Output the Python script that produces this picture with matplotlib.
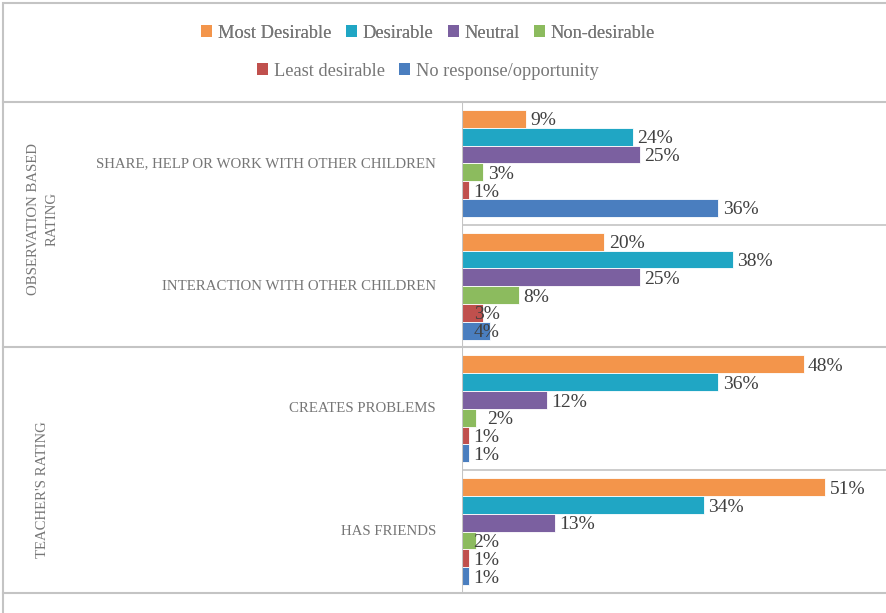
import matplotlib
matplotlib.use("Agg")
import matplotlib.pyplot as plt
from matplotlib.lines import Line2D
from matplotlib.patches import Patch, Rectangle

plt.rcParams['font.family'] = ['Liberation Serif', 'DejaVu Serif']

# Data
categories = ["SHARE, HELP OR WORK WITH OTHER CHILDREN",
              "INTERACTION WITH OTHER CHILDREN",
              "CREATES PROBLEMS",
              "HAS FRIENDS"]
groups = ["OBSERVATION BASED\nRATING", "TEACHER'S RATING"]
series = ["Most Desirable", "Desirable", "Neutral", "Non-desirable",
          "Least desirable", "No response/opportunity"]
most_desirable = [9, 20, 48, 51]
desirable = [24, 38, 36, 34]
neutral = [25, 25, 12, 13]
non_desirable = [3, 8, 2, 2]
least_desirable = [1, 3, 1, 1]
no_response = [36, 4, 1, 1]
values = [most_desirable, desirable, neutral, non_desirable, least_desirable, no_response]

colors = ['#F3954B', '#20A6C4', '#7B60A0', '#8CBB5E', '#C0504D', '#4A7EBF']
grid_c = '#C4C4C4'
text_c = '#767676'

# label positions that Excel moved off the bar end: (series, category) -> x
label_x = {(4, 1): 1.7, (5, 1): 1.7, (3, 2): 3.5, (3, 3): 1.6}

W, H = 886, 613
fig = plt.figure(figsize=(W / 100, H / 100), dpi=100)

ax_left, ax_right = 462, 886
ax_top, ax_bot = 102, 593
ax = fig.add_axes([ax_left / W, 1 - ax_bot / H, (ax_right - ax_left) / W, (ax_bot - ax_top) / H])

n = len(series)
bar_h = 0.87 / n
for i, (vals, col) in enumerate(zip(values, colors)):
    ys = [c - 0.435 + bar_h * (i + 0.5) for c in range(len(categories))]
    ax.barh(ys, vals, height=bar_h, color=col, edgecolor='white', linewidth=0.6, label=series[i])
    for j, (y, v) in enumerate(zip(ys, vals)):
        x = label_x.get((i, j), v + 0.6)
        ax.annotate(f"{v}%", (x, y), xytext=(0, -1.5), textcoords='offset points',
                    ha='left', va='center', fontsize=14, color='#404040')

ax.set_xlim(0, (ax_right - ax_left) / 7.12)
ax.set_ylim(len(categories) - 0.5, -0.5)
ax.set_xticks([])
ax.set_yticks([])
for s in ax.spines.values():
    s.set_visible(False)
ax.axvline(0, color=grid_c, lw=1.5)
for b in [0.5, 2.5]:
    ax.axhline(b, color=grid_c, lw=1.2)


def fx(px):
    return px / W


def fy(py):
    return 1 - py / H


# category labels
for j, cat in enumerate(categories):
    yc = ax_top + (j + 0.5) * (ax_bot - ax_top) / len(categories)
    fig.text(fx(436), fy(yc), cat, ha='right', va='center', fontsize=10.7, color=text_c)

# group labels
fig.text(fx(43), fy(219), groups[0], rotation=90, ha='center', va='center',
         fontsize=10.6, color=text_c, multialignment='center', linespacing=1.5)
fig.text(fx(43), fy(490), groups[1], rotation=90, ha='center', va='center',
         fontsize=10.6, color=text_c)

# group separators and outer border
for py in [ax_top, 347, ax_bot]:
    fig.add_artist(Line2D([fx(3), 1], [fy(py), fy(py)], color=grid_c, lw=1.5))
fig.add_artist(Rectangle((fx(3), -0.1), 1.2, fy(3) + 0.1, fill=False, ec=grid_c, lw=1.5))

# legend in two centred rows
handles = [Patch(facecolor=c, edgecolor='none') for c in colors]
leg_kw = dict(frameon=False, fontsize=13.2, handlelength=0.6, handleheight=0.6,
              handletextpad=0.3, columnspacing=0.8, labelcolor=text_c, loc='center')
leg1 = fig.legend(handles[:4], series[:4], ncol=4, bbox_to_anchor=(fx(428), fy(33)), **leg_kw)
fig.add_artist(leg1)
fig.legend(handles[4:], series[4:], ncol=2, bbox_to_anchor=(fx(428), fy(71)), **leg_kw)

fig.savefig("out.png", dpi=100)
